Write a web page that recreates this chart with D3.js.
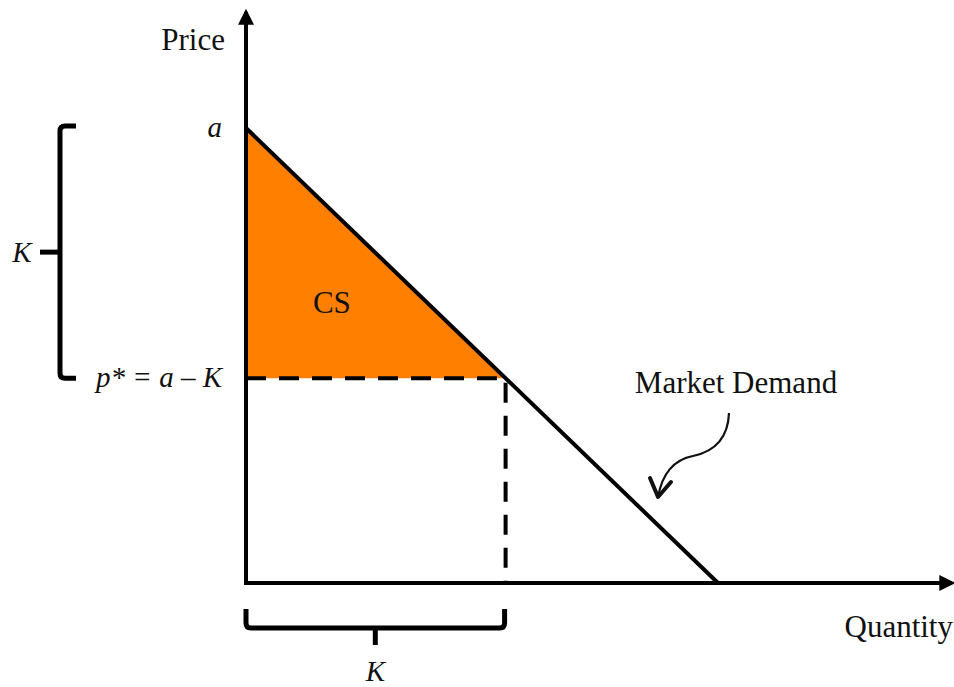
<!DOCTYPE html>
<html>
<head>
<meta charset="utf-8">
<script src="https://cdn.jsdelivr.net/npm/d3@7"></script>
<style>
  body { margin: 0; background: #fff; }
  text { font-family: "Liberation Serif", "Times New Roman", serif; fill: #111; }
  .math { font-style: italic; }
</style>
</head>
<body>
<svg id="chart"></svg>
<script>
// values
const priceIntercept = 10;          // a
const capacity = 5.5;               // K
const demandPoints = [[0, 10], [10, 0]];   // [quantity, price]
const axisMax = { quantity: 14.96, price: 12.55 };
const axisLabels = ["Price", "Quantity"];
const priceLabels = ["a", "p* = a \u2013 K"];
const bracketLabels = ["K", "K"];
const areaLabel = "CS";
const curveLabel = "Market Demand";

const width = 954;
const height = 687;
const origin = { x: 246, y: 583 };

const x = d3.scaleLinear().domain([0, 10]).range([origin.x, 718]);
const y = d3.scaleLinear().domain([0, 10]).range([origin.y, 128]);

const pStar = priceIntercept - capacity;

const svg = d3.select("#chart").attr("width", width).attr("height", height);

const defs = svg.append("defs");
defs.append("marker")
  .attr("id", "axis-head")
  .attr("viewBox", "0 0 10 10")
  .attr("refX", 8)
  .attr("refY", 5)
  .attr("markerWidth", 4.2)
  .attr("markerHeight", 4)
  .attr("markerUnits", "strokeWidth")
  .attr("orient", "auto")
  .append("path")
  .attr("d", "M0,0 L10,5 L0,10 Z")
  .attr("fill", "#000");

// consumer surplus
svg.append("path")
  .attr("d", d3.line()([
    [x(0), y(priceIntercept)],
    [x(capacity), y(pStar)],
    [x(0), y(pStar)]
  ]))
  .attr("fill", "#ff7f00");

// dashed guides
svg.append("path")
  .attr("d", d3.line()([[x(0), y(pStar)], [x(capacity), y(pStar)], [x(capacity), y(0)]]))
  .attr("fill", "none")
  .attr("stroke", "#000")
  .attr("stroke-width", 4)
  .attr("stroke-dasharray", "20,13");

// demand
svg.append("path")
  .attr("d", d3.line().x((d) => x(d[0])).y((d) => y(d[1]))(demandPoints))
  .attr("fill", "none")
  .attr("stroke", "#000")
  .attr("stroke-width", 4);

// axes
svg.append("line")
  .attr("x1", x(0)).attr("y1", y(0))
  .attr("x2", x(0)).attr("y2", y(axisMax.price))
  .attr("stroke", "#000").attr("stroke-width", 4)
  .attr("marker-end", "url(#axis-head)");
svg.append("line")
  .attr("x1", x(0) - 2).attr("y1", y(0))
  .attr("x2", x(axisMax.quantity)).attr("y2", y(0))
  .attr("stroke", "#000").attr("stroke-width", 4)
  .attr("marker-end", "url(#axis-head)");

svg.append("text")
  .attr("x", x(0) - 21).attr("y", 50)
  .attr("text-anchor", "end")
  .attr("font-size", 31)
  .text(axisLabels[0]);
svg.append("text")
  .attr("x", 953).attr("y", 637)
  .attr("text-anchor", "end")
  .attr("font-size", 31)
  .text(axisLabels[1]);

// price labels
svg.selectAll("text.price")
  .data([priceIntercept, pStar])
  .join("text")
  .attr("class", "price math")
  .attr("x", x(0) - 24)
  .attr("y", (d) => y(d) + 9)
  .attr("text-anchor", "end")
  .attr("font-size", 29)
  .text((d, i) => priceLabels[i]);

svg.append("text")
  .attr("x", x(1.82)).attr("y", 313)
  .attr("text-anchor", "middle")
  .attr("font-size", 31)
  .text(areaLabel);

// braces
const brace = svg.append("g")
  .attr("fill", "none")
  .attr("stroke", "#000")
  .attr("stroke-width", 5)
  .attr("stroke-linejoin", "round");

const bx = 60;
const yTop = y(priceIntercept) - 2;
const yBot = y(pStar);
brace.append("path")
  .attr("d", `M${bx + 16},${yTop} H${bx + 5} Q${bx},${yTop} ${bx},${yTop + 5} V${yBot - 5} Q${bx},${yBot} ${bx + 5},${yBot} H${bx + 16}`);
brace.append("path")
  .attr("d", `M${bx},${(yTop + yBot) / 2} H${bx - 20}`);

const by = 628;
const xL = x(0);
const xR = x(capacity) - 1;
brace.append("path")
  .attr("d", `M${xL},${by - 19} V${by - 5} Q${xL},${by} ${xL + 5},${by} H${xR - 5} Q${xR},${by} ${xR},${by - 5} V${by - 19}`);
brace.append("path")
  .attr("d", `M${(xL + xR) / 2},${by} V${by + 17}`);

svg.append("text")
  .attr("class", "math")
  .attr("x", 22).attr("y", (yTop + yBot) / 2 + 10)
  .attr("text-anchor", "middle")
  .attr("font-size", 29)
  .text(bracketLabels[0]);
svg.append("text")
  .attr("class", "math")
  .attr("x", (xL + xR) / 2).attr("y", 681)
  .attr("text-anchor", "middle")
  .attr("font-size", 29)
  .text(bracketLabels[1]);

// market demand callout
svg.append("text")
  .attr("x", 736).attr("y", 393)
  .attr("text-anchor", "middle")
  .attr("font-size", 31)
  .text(curveLabel);

svg.append("path")
  .attr("d", "M729,413 C728,440 712,452 693,456 C672,460 662,475 658,497")
  .attr("fill", "none")
  .attr("stroke", "#111")
  .attr("stroke-width", 2.2);
svg.append("path")
  .attr("d", "M650,478 L658,497 L671,482")
  .attr("fill", "none")
  .attr("stroke", "#111")
  .attr("stroke-width", 4)
  .attr("stroke-linejoin", "round")
  .attr("stroke-linecap", "round");
</script>
</body>
</html>
